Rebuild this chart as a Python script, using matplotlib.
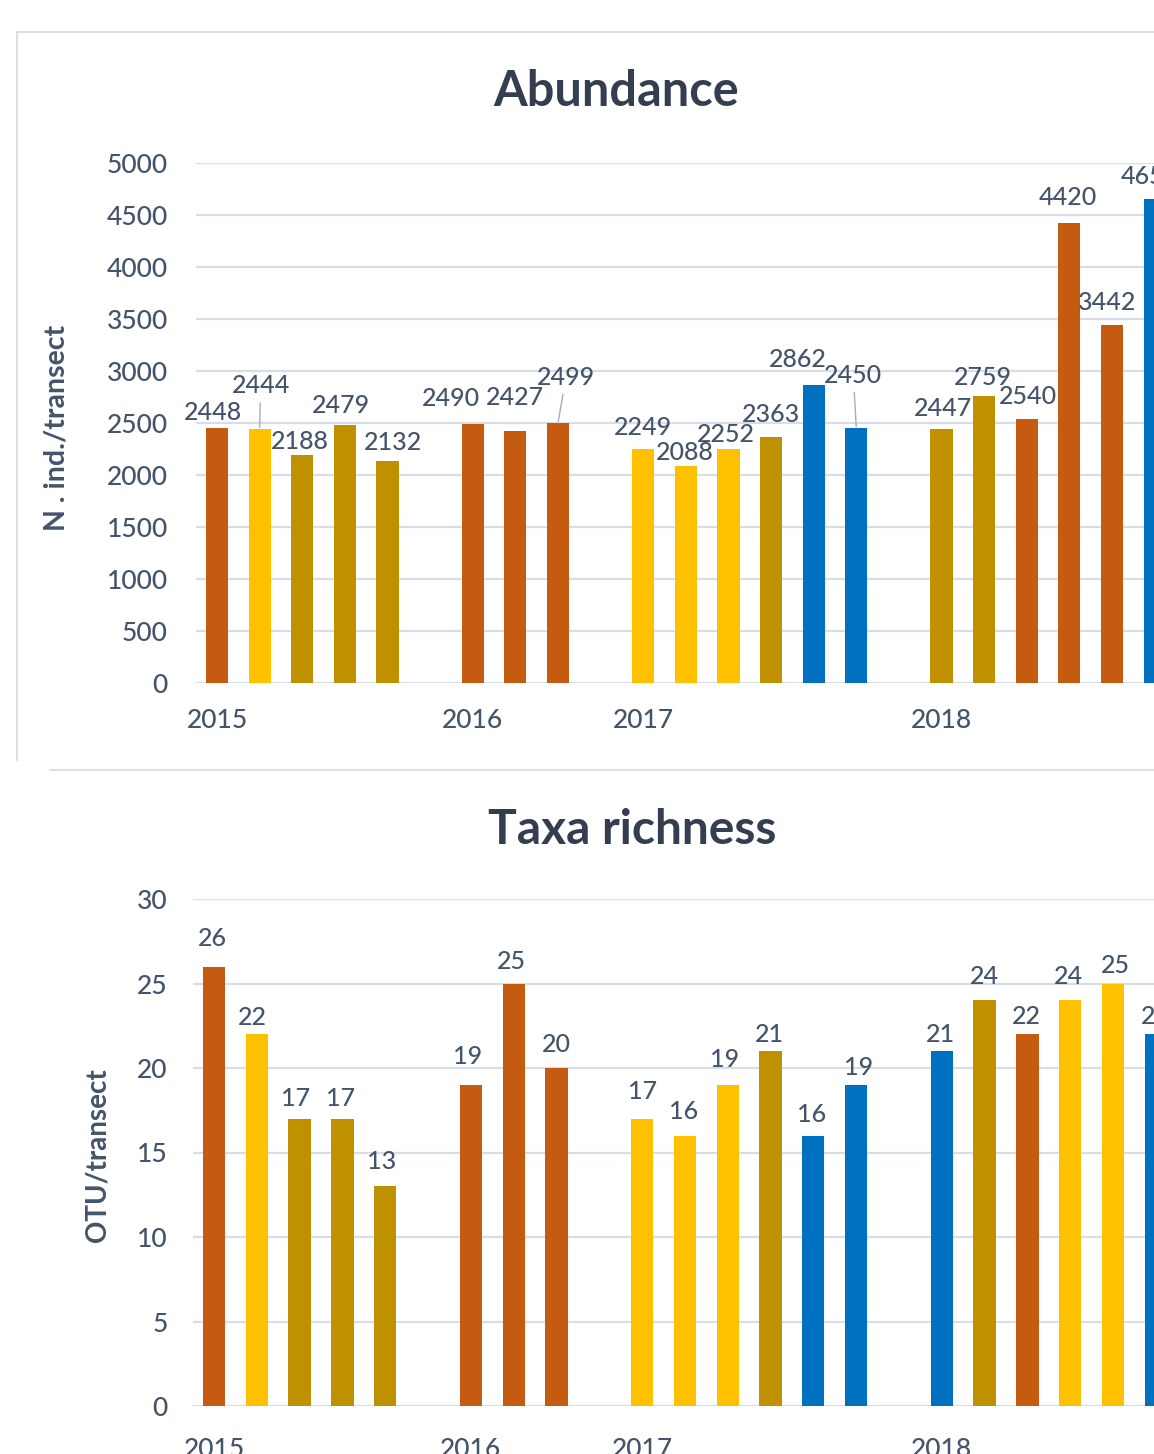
import numpy as np
import matplotlib
matplotlib.use("Agg")
import matplotlib.pyplot as plt
from matplotlib.lines import Line2D

# ---------------- data ----------------
year_labels = ['2015', '', '', '', '', '', '2016', '', '', '', '2017', '', '', '', '', '', '', '2018', '', '', '', '', '']
abundance = [2448, 2444, 2188, 2479, 2132, None, 2490, 2427, 2499, None,
             2249, 2088, 2252, 2363, 2862, 2450, None,
             2447, 2759, 2540, 4420, 3442, 4650]
abund_group = ['o', 'y', 'g', 'g', 'g', None, 'o', 'o', 'o', None,
               'y', 'y', 'y', 'g', 'b', 'b', None,
               'g', 'g', 'o', 'o', 'o', 'b']
richness = [26, 22, 17, 17, 13, None, 19, 25, 20, None,
            17, 16, 19, 21, 16, 19, None,
            21, 24, 22, 24, 25, 22]
rich_group = ['o', 'y', 'g', 'g', 'g', None, 'o', 'o', 'o', None,
              'y', 'y', 'y', 'g', 'b', 'b', None,
              'b', 'g', 'o', 'y', 'y', 'b']

# ---------------- style ----------------
palette = {'o': '#C55A11', 'y': '#FFC000', 'g': '#BF9000', 'b': '#0070C0'}
TXT = '#44546A'
TITLE = '#333F50'
GRID = '#D9DEE6'
FONT = 'Lato'
plt.rcParams['font.family'] = [FONT, 'DejaVu Sans']
TW = 'medium'

# label offsets in pixels (dx, dy of label centre from bar top)
abund_off = [(-4, 16), (1, 43), (-2, 14), (-4, 20), (6, 19), None, (-22, 26), (0, 33), (8, 46), None,
             (0, 22), (-1, 13), (-3, 14), (0, 23), (-16, 26), (-3, 53), None,
             (1, 20), (-1, 19), (1, 22), (-2, 26), (-5, 23), (-5, 23)]
abund_leader = {1, 8, 15}
rich_off = [(-2, 28), (-4, 17), (-4, 20), (-2, 20), (-4, 25), None, (-3, 28), (-2, 22), (0, 23), None,
            (0, 27), (-1, 24), (-3, 25), (-1, 17), (-2, 21), (2, 17), None,
            (-1, 17), (0, 24), (-1, 18), (-2, 24), (2, 18), (0, 18)]

W, H = 1154, 1454
DPI = 100
fig = plt.figure(figsize=(W / DPI, H / DPI), dpi=DPI)
fig.patch.set_facecolor('white')


def px_axes(left, bottom_y, top_y, width):
    return fig.add_axes([left / W, (H - bottom_y) / H, width / W, (bottom_y - top_y) / H])


def draw(ax, vals, groups, offs, ymax, ystep, leaders, xpad, ypad_x):
    x = np.arange(len(vals))
    xs = [i for i, v in enumerate(vals) if v is not None]
    vs = [vals[i] for i in xs]
    cs = [palette[groups[i]] for i in xs]
    ax.bar(xs, vs, width=0.52, color=cs, zorder=3)
    ax.set_xlim(-0.5, 23.5)
    ax.set_ylim(0, ymax)
    ax.set_yticks(np.arange(0, ymax + 1, ystep))
    ax.set_xticks(x)
    ax.set_xticklabels(year_labels)
    ax.tick_params(axis='x', length=0, pad=ypad_x, labelsize=19, labelcolor=TXT)
    ax.tick_params(axis='y', length=0, pad=xpad, labelsize=19, labelcolor=TXT)
    for lab in ax.get_xticklabels() + ax.get_yticklabels():
        lab.set_fontweight(TW)
    ax.grid(axis='y', color=GRID, lw=1.6, zorder=0)
    ax.set_axisbelow(True)
    for s in ax.spines.values():
        s.set_visible(False)
    for i in xs:
        dx, dy = offs[i]
        kw = {}
        if i in leaders:
            kw['arrowprops'] = dict(arrowstyle='-', color='#A6AEB8', lw=1.0, shrinkA=2, shrinkB=1)
        ax.annotate(str(vals[i]), xy=(i, vals[i]), xytext=(dx, dy), textcoords='offset pixels',
                    ha='center', va='center', fontsize=18, fontweight=TW, color=TXT, zorder=5,
                    annotation_clip=False, **kw)


ax1 = px_axes(195.7, 683, 163, 24 * 42.62)
draw(ax1, abundance, abund_group, abund_off, 5000, 500, abund_leader, 20, 18)
ax2 = px_axes(192.6, 1406, 899, 24 * 42.81)
draw(ax2, richness, rich_group, rich_off, 30, 5, set(), 18, 22)

# titles and axis labels
fig.text(616 / W, 1 - 92 / H, 'Abundance', ha='center', va='center', fontsize=35,
         fontweight='bold', color=TITLE)
fig.text(632 / W, 1 - 830 / H, 'Taxa richness', ha='center', va='center', fontsize=34.5,
         fontweight='bold', color=TITLE)
fig.text(57 / W, 1 - 428 / H, 'N . ind./transect', ha='center', va='center', rotation=90,
         fontsize=20.5, fontweight='bold', color=TXT)
fig.text(97 / W, 1 - 1155 / H, 'OTU/transect', ha='center', va='center', rotation=90,
         fontsize=20, fontweight='bold', color=TXT)

# panel frame lines
fc = '#DADADA'
fig.add_artist(Line2D([17 / W, 1.0], [1 - 32 / H, 1 - 32 / H], color=fc, lw=1.2))
fig.add_artist(Line2D([17 / W, 17 / W], [1 - 32 / H, 1 - 760 / H], color=fc, lw=1.2))
fig.add_artist(Line2D([50 / W, 1.0], [1 - 770 / H, 1 - 770 / H], color=fc, lw=1.2))

fig.savefig('out.png', dpi=DPI, facecolor='white')
